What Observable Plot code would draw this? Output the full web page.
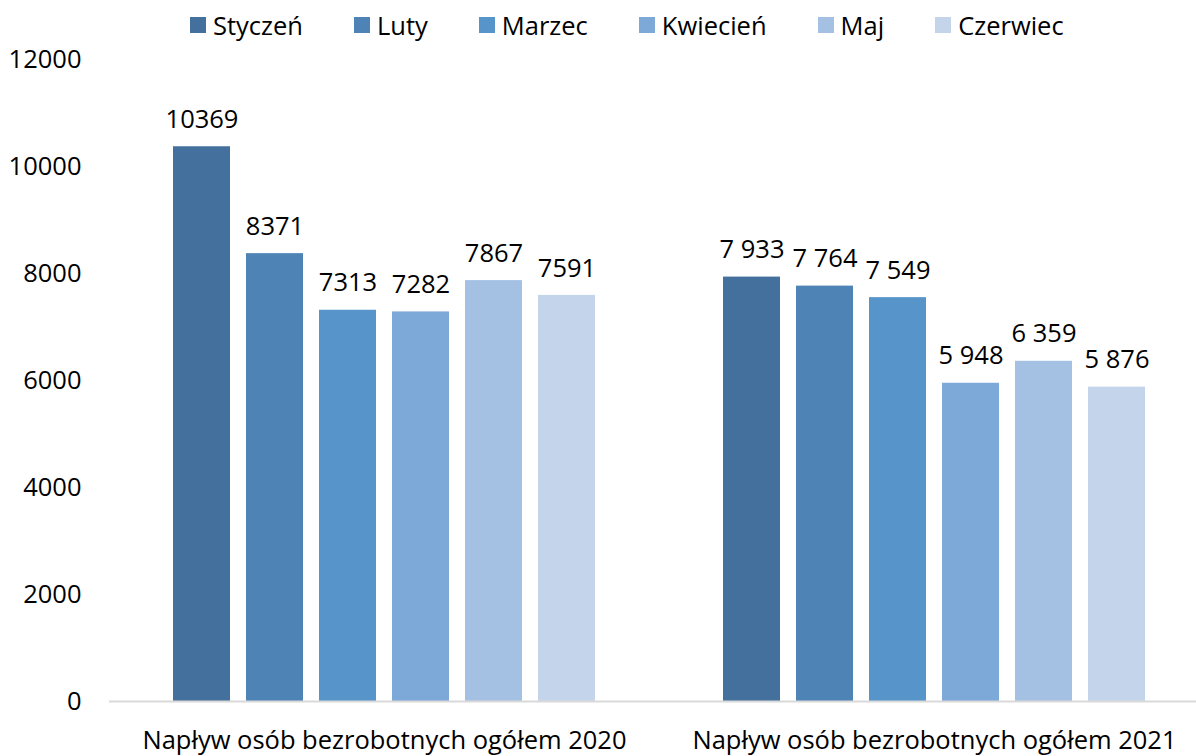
<!DOCTYPE html>
<html>
<head>
<meta charset="utf-8">
<script src="https://cdn.jsdelivr.net/npm/d3@7"></script>
<script src="https://cdn.jsdelivr.net/npm/@observablehq/plot@0.6"></script>
<style>
  html, body { margin: 0; padding: 0; background: #fff; overflow: hidden; }
  body { width: 1196px; height: 756px; font-family: "Open Sans", sans-serif; color: #000; }
  #legend { height: 50px; display: flex; align-items: center; padding-left: 190px; gap: 51px; font-size: 25.5px; box-sizing: border-box; }
  #legend .item { display: flex; align-items: center; }
  #legend .sw { width: 16px; height: 16px; margin-right: 7px; display: inline-block; }
</style>
</head>
<body>
<div id="legend"></div>
<div id="chart"></div>
<script>
const months = ["Styczeń", "Luty", "Marzec", "Kwiecień", "Maj", "Czerwiec"];
const colors = ["#43709D", "#4E83B5", "#5794CA", "#7DA9D8", "#A4C0E3", "#C3D4EB"];
const groups = ["Napływ osób bezrobotnych ogółem 2020", "Napływ osób bezrobotnych ogółem 2021"];
const values2020 = [10369, 8371, 7313, 7282, 7867, 7591];
const values2021 = [7933, 7764, 7549, 5948, 6359, 5876];
const yTicks = [0, 2000, 4000, 6000, 8000, 10000, 12000];

const spaced = d3.formatLocale({decimal: ",", thousands: " ", grouping: [3]}).format(",d");
const data = [
  ...months.map((m, i) => ({group: groups[0], month: m, value: values2020[i], label: String(values2020[i])})),
  ...months.map((m, i) => ({group: groups[1], month: m, value: values2021[i], label: spaced(values2021[i])}))
];

// legend
const legend = document.getElementById("legend");
months.forEach((m, i) => {
  const it = document.createElement("span");
  it.className = "item";
  const sw = document.createElement("span");
  sw.className = "sw";
  sw.style.background = colors[i];
  it.appendChild(sw);
  it.appendChild(document.createTextNode(m));
  legend.appendChild(it);
});

const chart = Plot.plot({
  width: 1196,
  height: 706,
  marginTop: 9,
  marginBottom: 55,
  marginLeft: 108,
  marginRight: -13,
  style: {fontFamily: "Open Sans, sans-serif", fontSize: "25.5px", color: "#000", background: "#fff", overflow: "visible"},
  fx: {domain: groups, padding: 0, axis: "bottom", label: null, tickSize: 0, tickPadding: 29},
  x: {domain: months, paddingInner: 0.216, paddingOuter: 0.863, axis: null},
  y: {domain: [0, 12000], ticks: yTicks, tickSize: 0, tickPadding: 28, label: null, tickFormat: d => String(d)},
  color: {domain: months, range: colors},
  marks: [
    Plot.barY(data, {fx: "group", x: "month", y: "value", fill: "month"}),
    Plot.ruleY([0], {stroke: "#D9D9D9", strokeWidth: 2}),
    Plot.text(data, {fx: "group", x: "month", y: "value", text: "label", dy: -27, fill: "#000", fontSize: 25.5})
  ]
});
document.getElementById("chart").appendChild(chart);
</script>
</body>
</html>
